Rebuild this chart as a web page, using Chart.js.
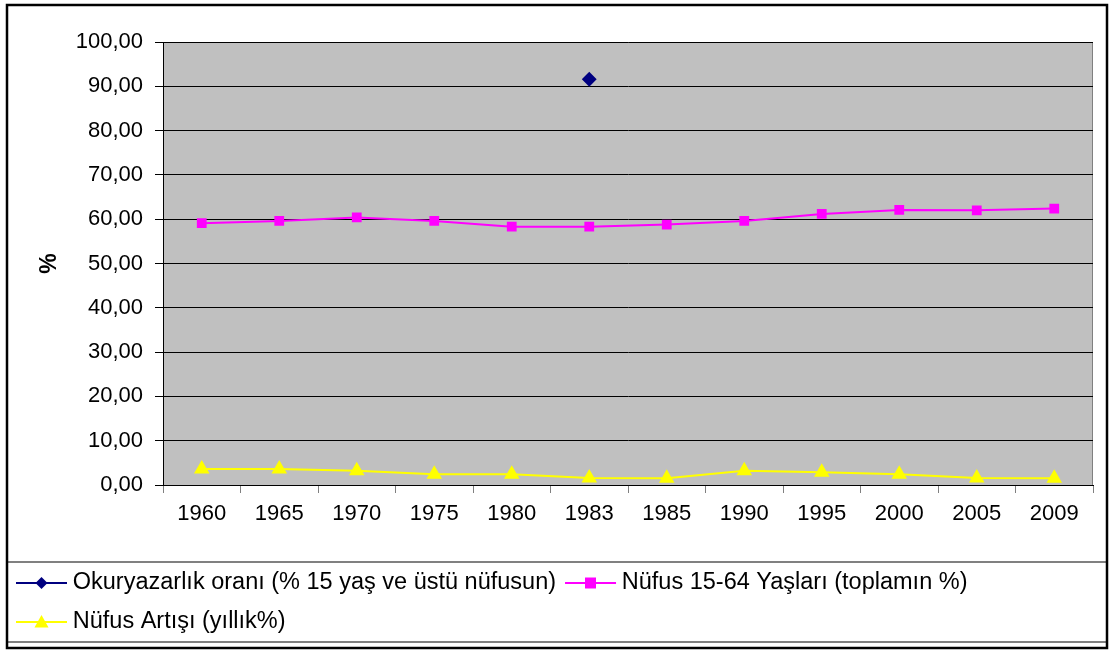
<!DOCTYPE html>
<html>
<head>
<meta charset="utf-8">
<script src="https://cdn.jsdelivr.net/npm/chart.js@4/dist/chart.umd.min.js"></script>
<style>
  html, body { margin: 0; padding: 0; background: #fff; }
  #wrap { width: 1110px; height: 650px; }
</style>
</head>
<body>
<div id="wrap"><canvas id="chart" width="1110" height="650"></canvas></div>
<script>
// data
const years = ["1960", "1965", "1970", "1975", "1980", "1983", "1985", "1990", "1995", "2000", "2005", "2009"];
const literacy = [null, null, null, null, null, 91.6, null, null, null, null, null, null];
const workingAge = [59.1, 59.6, 60.4, 59.6, 58.3, 58.3, 58.8, 59.6, 61.2, 62.1, 62.0, 62.4];
const popGrowth = [3.6, 3.6, 3.2, 2.4, 2.4, 1.6, 1.5, 3.2, 2.9, 2.4, 1.6, 1.5];
const seriesNames = [
  "Okuryazarlık oranı (% 15 yaş ve üstü nüfusun)",
  "Nüfus 15-64 Yaşları (toplamın %)",
  "Nüfus Artışı (yıllık%)"
];

const FONT = "'Liberation Sans', Arial, sans-serif";
Chart.defaults.font.family = FONT;
Chart.defaults.font.size = 22;
Chart.defaults.color = "#000";

const fmt = v => v.toFixed(2).replace(".", ",");

function drawMarker(ctx, style, r, x, y) {
  ctx.beginPath();
  if (style === "rect") {
    ctx.rect(x - r, y - r, 2 * r, 2 * r);
  } else if (style === "rectRot") {
    ctx.moveTo(x, y - r); ctx.lineTo(x + r, y); ctx.lineTo(x, y + r); ctx.lineTo(x - r, y);
    ctx.closePath();
  } else {
    ctx.moveTo(x, y - r); ctx.lineTo(x + r, y + r * 0.8); ctx.lineTo(x - r, y + r * 0.8);
    ctx.closePath();
  }
  ctx.fill();
}

// background, plot fill, frame and legend box + legend markers
const frame = {
  id: "frame",
  beforeDraw(chart) {
    const {ctx, chartArea: a} = chart;
    ctx.save();
    ctx.fillStyle = "#fff";
    ctx.fillRect(0, 0, chart.width, chart.height);
    ctx.fillStyle = "#C0C0C0";
    ctx.fillRect(a.left, a.top, a.right - a.left, a.bottom - a.top);
    ctx.strokeStyle = "#808080";
    ctx.lineWidth = 1;
    ctx.strokeRect(a.left + 0.5, a.top + 0.5, a.right - a.left - 1, a.bottom - a.top);
    ctx.restore();
  },
  afterDraw(chart) {
    const {ctx} = chart;
    const lg = chart.legend;
    ctx.save();
    // legend box
    ctx.strokeStyle = "#808080";
    ctx.lineWidth = 2;
    ctx.beginPath();
    ctx.moveTo(7, 562); ctx.lineTo(1107, 562);
    ctx.moveTo(7, 642); ctx.lineTo(1107, 642);
    ctx.stroke();
    // legend symbols: line + marker
    lg.legendHitBoxes.forEach((hb, i) => {
      const ds = chart.data.datasets[i];
      const y = hb.top + hb.height / 2;
      const x0 = hb.left, x1 = hb.left + 51, xm = (x0 + x1) / 2;
      ctx.strokeStyle = ds.borderColor;
      ctx.lineWidth = 2;
      ctx.beginPath();
      ctx.moveTo(x0, y); ctx.lineTo(x1, y);
      ctx.stroke();
      ctx.fillStyle = ds.pointBackgroundColor;
      drawMarker(ctx, ds.pointStyle, ds.pointRadius, xm, y);
    });
    // outer frame
    ctx.strokeStyle = "#000";
    ctx.lineWidth = 2.5;
    ctx.strokeRect(7, 5, 1100, 643);
    ctx.restore();
  }
};

const ctx = document.getElementById("chart");
const data = {
  labels: years,
  datasets: [
    {
      label: seriesNames[0],
      data: literacy,
      borderColor: "#000080",
      backgroundColor: "#000080",
      pointBackgroundColor: "#000080",
      pointBorderColor: "#000080",
      pointStyle: "rectRot",
      pointRadius: 6,
      borderWidth: 2,
      spanGaps: false
    },
    {
      label: seriesNames[1],
      data: workingAge,
      borderColor: "#FF00FF",
      backgroundColor: "#FF00FF",
      pointBackgroundColor: "#FF00FF",
      pointBorderColor: "#FF00FF",
      pointStyle: "rect",
      pointRadius: 5.5,
      borderWidth: 2
    },
    {
      label: seriesNames[2],
      data: popGrowth,
      borderColor: "#FFFF00",
      backgroundColor: "#FFFF00",
      pointBackgroundColor: "#FFFF00",
      pointBorderColor: "#FFFF00",
      pointStyle: "triangle",
      pointRadius: 7,
      borderWidth: 2
    }
  ]
};

const options = {
  responsive: false,
  animation: false,
  layout: { padding: { left: 7, top: 42, right: 17, bottom: 3 } },
  elements: { line: { tension: 0 } },
  scales: {
    x: {
      offset: true,
      grid: { offset: true, drawOnChartArea: false, drawTicks: true, tickLength: 8, color: "#808080" },
      border: { color: "#000", width: 1 },
      ticks: { maxRotation: 0, autoSkip: false, padding: 8, font: { size: 22 } },
      afterFit(s) { s.height = 74; }
    },
    y: {
      min: 0,
      max: 100,
      grid: { color: "#000", lineWidth: 1, tickLength: 8 },
      border: { color: "#000", width: 1 },
      ticks: { stepSize: 10, padding: 12, font: { size: 22 }, callback: v => fmt(v) },
      title: { display: true, text: "%", font: { size: 23, weight: "bold" }, padding: { top: 29, bottom: 0 } },
      afterFit(s) { s.width = 156; }
    }
  },
  plugins: {
    legend: {
      position: "bottom",
      align: "start",
      labels: {
        boxWidth: 45,
        boxHeight: 30,
        padding: 9,
        font: { size: 23.5 },
        generateLabels(chart) {
          return chart.data.datasets.map((ds, i) => ({
            text: ds.label,
            fillStyle: "rgba(0,0,0,0)",
            strokeStyle: "rgba(0,0,0,0)",
            lineWidth: 0,
            fontColor: "#000",
            datasetIndex: i
          }));
        }
      }
    },
    tooltip: { enabled: false }
  }
};

new Chart(ctx, { type: "line", data: data, options: options, plugins: [frame] });
</script>
</body>
</html>
